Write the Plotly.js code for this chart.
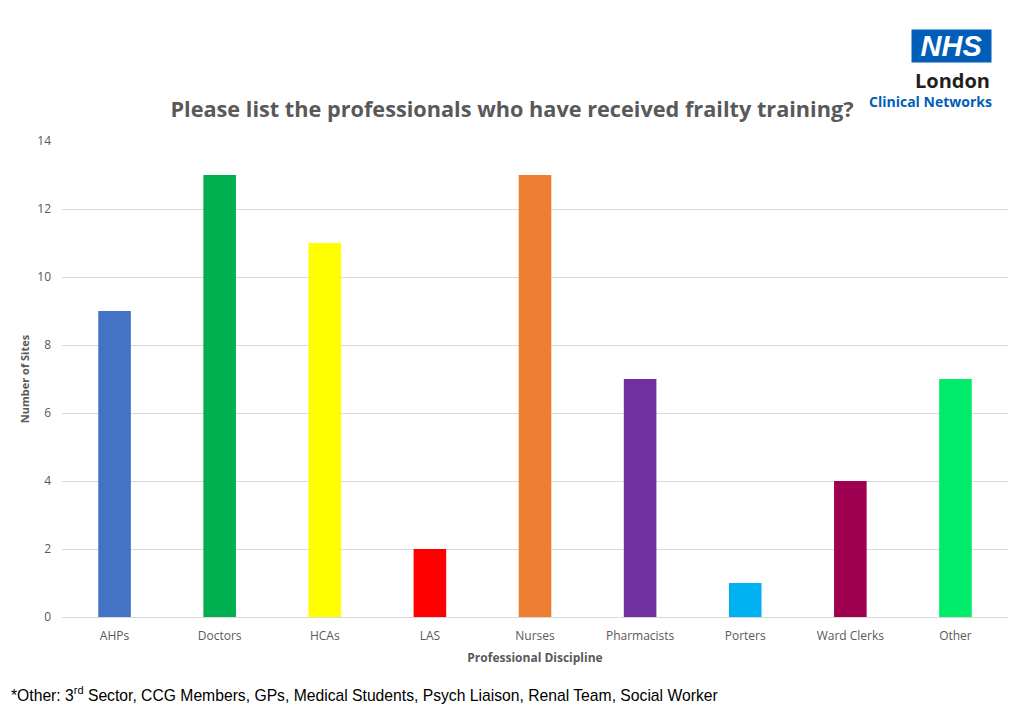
<!DOCTYPE html>
<html>
<head>
<meta charset="utf-8">
<script src="https://cdn.plot.ly/plotly-3.0.1.min.js"></script>
<style>html,body{margin:0;padding:0;background:#fff;}#chart{width:1024px;height:709px;}</style>
</head>
<body>
<div id="chart"></div>
<script>
const categories = ["AHPs","Doctors","HCAs","LAS","Nurses","Pharmacists","Porters","Ward Clerks","Other"];
const sites = [9, 13, 11, 2, 13, 7, 1, 4, 7];
const barColors = ["#4472C4","#00B050","#FFFF00","#FF0000","#ED7D31","#7030A0","#00B0F0","#A00050","#00EB6A"];
const yTicks = [0,2,4,6,8,10,12,14];

const L = 62, R = 16, T = 141, B = 92, W = 1024, H = 709;
const pw = W - L - R, ph = H - T - B;
const px = x => (x - L) / pw;
const py = y => (H - B - y) / ph;

const font = "Open Sans, Lato, sans-serif";

const data = [{
  type: "bar",
  x: categories,
  y: sites,
  marker: {color: barColors},
  width: 0.31,
  hoverinfo: "x+y"
}];

const layout = {
  width: W, height: H,
  margin: {l: L, r: R, t: T, b: B},
  paper_bgcolor: "#ffffff",
  plot_bgcolor: "#ffffff",
  showlegend: false,
  font: {family: font, color: "#595959"},
  title: {
    text: "<b>Please list the professionals who have received frailty training?</b>",
    font: {family: font, size: 21.7, color: "#595959"},
    x: 0.5, xanchor: "center",
    y: 1 - 109 / H, yanchor: "middle"
  },
  xaxis: {
    type: "category",
    showgrid: false,
    showline: true, linecolor: "#D9D9D9", linewidth: 1,
    ticks: "",
    ticklabelstandoff: 8,
    tickfont: {size: 12, color: "#595959"},
    title: {text: "<b>Professional Discipline</b>", font: {size: 12, color: "#595959"}, standoff: 10}
  },
  yaxis: {
    range: [0, 14],
    tickvals: yTicks,
    ticktext: yTicks.map(String),
    showgrid: true, gridcolor: "#D9D9D9", gridwidth: 1,
    zeroline: false,
    ticks: "", ticklen: 0,
    ticklabelstandoff: 10,
    tickfont: {size: 12, color: "#595959"},
    title: {text: "<b>Number of Sites</b>", font: {size: 11, color: "#595959"}, standoff: 5}
  },
  annotations: [
    {
      xref: "paper", yref: "paper",
      x: px(951.5), y: py(46), xanchor: "center", yanchor: "middle",
      text: "<b><i>NHS</i></b>", showarrow: false,
      font: {family: "Liberation Sans, Arial, sans-serif", size: 29, color: "#ffffff"},
      bgcolor: "#005EB8", borderpad: 0, width: 79, height: 32
    },
    {
      xref: "paper", yref: "paper",
      x: px(992), y: py(80), xanchor: "right", yanchor: "middle",
      text: "<b>London</b>", showarrow: false,
      font: {family: font, size: 20, color: "#231F20"}
    },
    {
      xref: "paper", yref: "paper",
      x: px(994), y: py(101), xanchor: "right", yanchor: "middle",
      text: "<b>Clinical Networks</b>", showarrow: false,
      font: {family: font, size: 14, color: "#005EB8"}
    },
    {
      xref: "paper", yref: "paper",
      x: px(9), y: py(694), xanchor: "left", yanchor: "middle",
      text: "*Other: 3<sup>rd</sup> Sector, CCG Members, GPs, Medical Students, Psych Liaison, Renal Team, Social Worker",
      showarrow: false,
      font: {family: "Liberation Sans, Arial, sans-serif", size: 15.7, color: "#000000"}
    }
  ]
};

Plotly.newPlot("chart", data, layout, {displayModeBar: false, staticPlot: true});
</script>
</body>
</html>
